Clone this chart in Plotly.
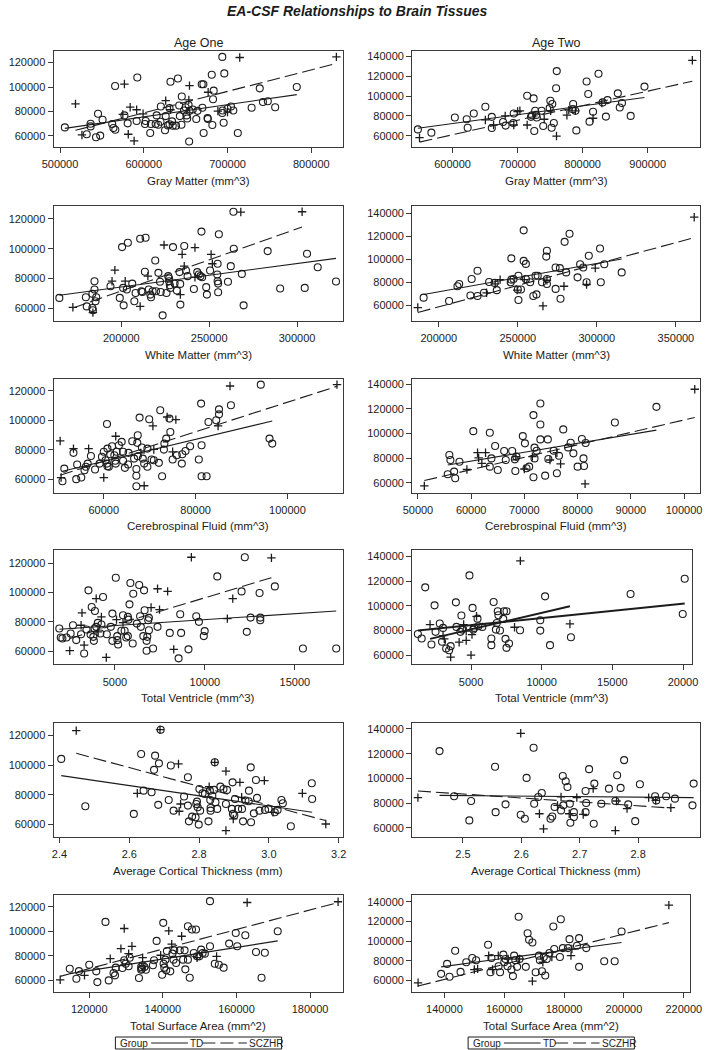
import plotly.graph_objects as go

# ------------------------------------------------------------------
# DATA
# Each point list holds (x, EA-CSF) pairs; fit lists hold the two
# end points of the group regression line as drawn in the reference.
# ------------------------------------------------------------------

# Row 1 - Gray Matter
GM1_TD = [(505800,67000),(531900,61350),(536500,70000),(536500,67800),(543000,58900),(545400,78100),(548000,60300),(550800,73200),(562300,69700),(563800,66500),(566000,65100),(565800,100800),(580800,70300),(576900,76800),(592300,107800),(591500,72200),(601500,69700),(602300,72200),(607700,62400),(608500,69700),(614200,69700),(615400,76800),(620400,84100),(620000,71600),(617300,69200),(625400,64600),(626200,76200),(628800,68600),(630800,82700),(631900,104300),(633800,71900),(630800,69500),(634600,68400),(638500,68400),(640800,107000),(642300,84900),(643100,76200),(645400,92200),(645000,69200),(648100,80800),(650000,83500),(651200,76800),(651900,74300),(653500,85400),(654200,55400),(654600,80500),(658500,81600),(662700,73800),(664200,80500),(669200,102200),(671200,102200),(670000,83000),(671500,62400),(676500,73800),(676200,74600),(681200,110000),(681900,68900),(682700,90000),(683500,97000),(693800,124600),(696200,111100),(695400,70800),(694200,80800),(693800,78700),(700000,82200),(704200,84100),(706900,80800),(712300,62400),(728800,83000),(738500,98900),(742300,87800),(748100,88400),(756900,83500),(782700,100000)]
GM1_HR = [(518500,86200),(526200,60800),(576900,102400),(581500,61400),(583800,83500),(588500,56000),(591500,81400),(599200,78100),(626200,88900),(631900,81400),(654600,101100),(653800,89500),(676900,95700),(700000,79500),(714600,124100),(830000,124600),(575000,77600),(688500,80300)]
GM1_TD_FIT_X, GM1_TD_FIT_Y = [505800, 782700], [66200, 93800]
GM1_HR_FIT_X, GM1_HR_FIT_Y = [518500, 830000], [64600, 119200]

GM2_TD = [(546600,66400),(567400,63100),(603500,78300),(621700,76600),(623200,68100),(632600,82400),(650400,89200),(660300,79000),(660300,67800),(677600,73900),(681600,70200),(694000,82400),(693400,72900),(714700,100300),(724600,97600),(720600,79000),(722100,80700),(727000,85100),(728500,81000),(725600,64700),(729500,78300),(736900,85100),(739400,69800),(749300,87800),(750300,95300),(752300,68100),(753300,91900),(755700,72900),(759200,107800),(760200,125100),(785400,91900),(784900,86800),(788800,85100),(790300,65400),(806100,114600),(808600,102000),(810600,74200),(816000,84100),(824400,122400),(830800,93600),(835800,79300),(838300,95900),(854100,102700),(857100,88500),(860500,92900),(873900,80000),(895100,109500)]
GM2_HR = [(549100,58000),(650400,75900),(663000,70800),(680900,80000),(694100,70800),(700000,84400),(703500,85100),(714700,70800),(740900,76600),(750800,85100),(759800,59700),(775800,80700),(778700,85800),(788800,85100),(816000,77600),(829400,92900),(968700,136000)]
GM2_TD_FIT_X, GM2_TD_FIT_Y = [546600, 895100], [67500, 98600]
GM2_HR_FIT_X, GM2_HR_FIT_Y = [549100, 968700], [53600, 114900]

# Row 2 - White Matter
WM1_TD = [(164700,67000),(179800,67400),(180300,61300),(183500,69700),(184700,78200),(184700,72600),(183500,60200),(183800,58700),(185300,64700),(185700,67400),(193800,74800),(199100,67000),(200400,101100),(201000,73700),(201300,62000),(203700,104000),(203100,72600),(206200,76600),(207400,64700),(208100,70300),(210700,106700),(211400,71500),(212000,71000),(213800,107400),(213400,84500),(215600,72600),(216500,69200),(216900,67400),(217800,71500),(219300,92100),(219700,71500),(221100,83800),(222000,77800),(222400,71000),(223500,55300),(225700,70300),(226700,81600),(227200,80000),(227200,78200),(227600,75500),(227900,73700),(229400,101100),(230300,76600),(231600,71900),(233100,84300),(233500,76400),(233600,62500),(235800,101800),(236800,85400),(237700,81600),(241300,73000),(243200,84300),(244100,82700),(245600,111500),(245000,81600),(246000,80900),(248300,74200),(248700,69200),(250500,85400),(254800,89900),(254600,82700),(254800,78200),(255100,76600),(255100,70800),(255500,109700),(260700,77800),(262300,88300),(264000,100000),(263800,124800),(268600,83100),(269600,62000),(283300,98400),(290400,73300),(304400,73700),(305700,96600),(311800,87600),(322200,78000)]
WM1_HR = [(172400,60700),(183800,57100),(194700,78200),(196300,85600),(202200,78200),(210700,61300),(215100,81600),(224300,102500),(234600,96200),(235800,88300),(233600,69200),(241900,100700),(241900,80900),(251100,96200),(251800,89900),(268000,124600),(302900,124800)]
WM1_TD_FIT_X, WM1_TD_FIT_Y = [164700, 322200], [68800, 93500]
WM1_HR_FIT_X, WM1_HR_FIT_Y = [172400, 302900], [60200, 114600]

WM2_TD = [(190400,66600),(206500,63700),(211800,76500),(212900,78500),(220800,82800),(220000,68500),(224500,89900),(224500,68000),(228600,70800),(231800,80200),(235300,79400),(236700,73100),(245900,100700),(245500,79900),(245900,82200),(247300,82800),(250400,85600),(250000,73700),(252000,73700),(250400,64600),(253700,125000),(253700,98500),(255100,95900),(255100,82800),(257800,79900),(259800,68000),(261200,85600),(261800,69400),(262600,85600),(265300,79900),(268000,102200),(268400,107300),(268400,82800),(268400,78500),(273900,92800),(273900,74200),(276600,92200),(277000,65700),(279600,115000),(280600,88500),(282700,122100),(287800,84200),(289400,95600),(291400,92800),(294900,103000),(293500,79900),(302000,109300),(302500,79900),(304700,95600),(315700,88500)]
WM2_HR = [(186700,58000),(230200,70800),(235700,78500),(238800,82200),(249600,73100),(254100,82200),(265900,59400),(268400,81700),(279200,76500),(293500,78000),(299000,92200),(361600,136400)]
WM2_TD_FIT_X, WM2_TD_FIT_Y = [190400, 315700], [69400, 100200]
WM2_HR_FIT_X, WM2_HR_FIT_Y = [186700, 361600], [53700, 118700]

# Row 3 - Cerebrospinal Fluid
CSF1_TD = [(51000,58600),(51400,67200),(53400,77900),(54200,70000),(54000,60000),(55100,61100),(55800,66100),(56100,68400),(56500,70600),(57200,75800),(58100,66600),(59100,70600),(59600,75200),(60000,78600),(60400,72900),(60700,97500),(60800,80800),(60700,70600),(60800,68800),(61100,68400),(61400,77000),(61800,82400),(62300,76300),(62500,72500),(62800,78600),(63300,83100),(63900,85400),(62600,70600),(64200,72500),(64200,78600),(64600,67700),(65300,70000),(65400,77900),(66200,85800),(66600,74000),(67300,84700),(67400,89900),(67100,66900),(67100,62300),(67100,55200),(67800,101900),(67400,75600),(68300,81500),(68500,74000),(68800,70600),(69500,80800),(69500,68400),(69900,100800),(70400,73400),(70900,72900),(72000,71100),(72300,106900),(72700,62000),(73100,80100),(73200,84200),(73600,87600),(74300,101200),(74500,92100),(75000,73400),(75900,76300),(77000,70600),(77100,77000),(77800,79200),(78800,82400),(80700,73400),(81200,111400),(81300,83100),(81300,62000),(82400,62000),(82800,98900),(84500,100100),(85100,107500),(85100,104100),(87700,110300),(94200,124300),(96100,87600),(96700,84200)]
CSF1_HR = [(50500,86000),(50700,61100),(53400,80800),(56700,80800),(60000,61100),(62600,89200),(68100,77900),(68800,55500),(70700,96200),(73800,102300),(75700,100500),(75000,78600),(70900,80200),(84900,96200),(87500,123400),(110800,124300)]
CSF1_TD_FIT_X, CSF1_TD_FIT_Y = [51000, 96700], [65400, 99600]
CSF1_HR_FIT_X, CSF1_HR_FIT_Y = [50500, 110800], [62700, 123200]

CSF2_TD = [(55600,67000),(55900,82600),(56100,78600),(56800,69200),(57000,63800),(57800,77200),(60400,102000),(63500,100700),(63500,73200),(63800,79900),(64500,89900),(65000,70500),(66200,85900),(66500,78600),(67700,85900),(68200,79100),(68500,81300),(68300,69700),(69700,98000),(70100,92100),(70400,71900),(70900,73200),(71700,115000),(71700,64600),(71900,88600),(71900,79900),(72300,86100),(73000,124400),(73000,107400),(73000,95300),(73900,65900),(74400,95300),(74500,79400),(75500,86100),(76100,67800),(76500,82100),(77300,103400),(78200,88800),(78700,92600),(79200,84000),(80000,73200),(80800,95600),(81100,79900),(81200,73700),(81500,92400),(87000,109000),(94800,121700)]
CSF2_HR = [(51200,57600),(59200,70900),(61200,84500),(61400,80300),(62000,75900),(62700,84500),(68400,81300),(70000,71300),(71500,81300),(74800,78600),(76100,84500),(76800,75400),(81400,59200),(102000,136000)]
CSF2_TD_FIT_X, CSF2_TD_FIT_Y = [55600, 94800], [74500, 102800]
CSF2_HR_FIT_X, CSF2_HR_FIT_Y = [51200, 102000], [61900, 113100]

# Row 4 - Total Ventricle
TV1_TD = [(1910,75600),(1990,69500),(2080,68800),(2310,69500),(2540,72200),(2670,77800),(2850,67700),(3120,71700),(3290,58600),(3420,74900),(3530,101500),(3650,71500),(3710,90200),(3800,69900),(3830,67200),(3870,75600),(3890,87500),(3960,76700),(4050,79400),(4190,72200),(4250,78300),(4340,97000),(4550,71700),(4770,76700),(4860,67200),(4860,85700),(5050,110100),(5130,70400),(5140,67700),(5180,64700),(5360,74000),(5450,84600),(5540,74000),(5630,69500),(5720,83500),(5720,70400),(5810,92000),(5750,81600),(5860,106500),(5990,65400),(6020,99200),(6220,78900),(6350,105100),(6400,83900),(6440,76700),(6580,70400),(6620,101500),(6650,88000),(6760,67200),(6760,60500),(6800,69900),(6850,81200),(6890,74400),(6890,82800),(7120,62000),(7370,76700),(8050,72600),(8630,85300),(8680,72600),(8540,55300),(9090,61400),(9520,83900),(9670,80100),(9940,70400),(9990,73800),(10690,111000),(12040,100800),(12330,73300),(12540,83000),(12220,124000),(13040,99700),(13080,83000),(13080,81200),(13890,104200),(15450,62000),(17300,62000)]
TV1_HR = [(2490,60500),(3170,86200),(3290,64300),(3120,77800),(3960,95900),(4250,83500),(4070,73300),(4520,55900),(5090,81600),(5450,79600),(7010,89800),(7370,102600),(7480,88400),(7930,100800),(8270,61400),(9250,124000),(11250,82300),(11550,95900),(13700,123600)]
TV1_TD_FIT_X, TV1_TD_FIT_Y = [1910, 17300], [75100, 87500]
TV1_HR_FIT_X, TV1_HR_FIT_Y = [2490, 13700], [68800, 110100]

TV2_TD = [(1240,77200),(1510,73500),(1760,115000),(2200,68600),(2420,100400),(2490,78900),(2790,85600),(3020,82100),(2950,70800),(3240,65400),(3450,64000),(3560,67300),(3930,102800),(3970,82900),(4250,78900),(4320,92100),(4380,80700),(4890,124700),(5110,98300),(5160,80700),(5230,82100),(5460,89600),(5520,83400),(5800,82900),(6440,73500),(6440,68100),(6600,103100),(6760,80700),(6820,86100),(6890,95600),(6940,92300),(7050,80000),(7280,89400),(7330,95600),(7510,95600),(7440,73200),(7510,65900),(7690,69400),(8470,80200),(9900,88300),(9900,79900),(10240,107700),(10590,68100),(12070,74500),(16290,109600),(19980,93400),(20120,122000)]
TV2_HR = [(2100,84800),(3020,75900),(3110,73200),(4160,70500),(4660,71900),(3560,58400),(4480,84800),(4660,79400),(5000,60000),(5070,76700),(5390,91500),(8080,82600),(12000,85300),(8490,136500)]
TV2_TD_FIT_X, TV2_TD_FIT_Y = [1240, 20120], [79900, 101800]
TV2_HR_FIT_X, TV2_HR_FIT_Y = [2100, 12000], [73200, 99600]

# Row 5 - Average Cortical Thickness
CT1_TD = [(2.405,104300),(2.474,72400),(2.613,67200),(2.634,107600),(2.641,82900),(2.664,81800),(2.671,96900),(2.674,106500),(2.685,101300),(2.683,73300),(2.690,124000),(2.713,76600),(2.719,99800),(2.727,69400),(2.757,78900),(2.768,91900),(2.768,72800),(2.771,62200),(2.780,65400),(2.790,64900),(2.792,73900),(2.794,75500),(2.796,71700),(2.799,60000),(2.801,84000),(2.803,69400),(2.810,81100),(2.817,80700),(2.827,62200),(2.831,82900),(2.832,76600),(2.833,71200),(2.833,69400),(2.838,79500),(2.843,83400),(2.845,102000),(2.847,75100),(2.852,70600),(2.861,85600),(2.870,84000),(2.880,83400),(2.877,73900),(2.894,70600),(2.896,88500),(2.897,67200),(2.901,66100),(2.903,77300),(2.912,70600),(2.923,70600),(2.926,62200),(2.933,76200),(2.942,75700),(2.943,82900),(2.949,61600),(2.948,98600),(2.957,67600),(2.963,90100),(2.966,78000),(2.973,69400),(2.989,69900),(2.999,70600),(3.017,68300),(3.025,69900),(3.036,76600),(3.040,74400),(3.063,58900),(3.123,87900),(3.124,77300)]
CT1_HR = [(2.448,123400),(2.623,81100),(2.688,124000),(2.741,100900),(2.743,69000),(2.747,73900),(2.845,102000),(2.829,85600),(2.877,96000),(2.877,56000),(2.898,63800),(2.917,88500),(2.922,78400),(2.987,89700),(3.012,68300),(3.096,81100),(3.163,60400)]
CT1_TD_FIT_X, CT1_TD_FIT_Y = [2.405, 3.124], [93000, 68300]
CT1_HR_FIT_X, CT1_HR_FIT_Y = [2.448, 3.163], [108100, 62700]

CT2_TD = [(2.460,122100),(2.485,85500),(2.511,66000),(2.514,81700),(2.555,109400),(2.556,72700),(2.573,79000),(2.599,70600),(2.606,67300),(2.609,100400),(2.622,79500),(2.621,124800),(2.629,85000),(2.635,88200),(2.650,67300),(2.653,69200),(2.657,76800),(2.668,74100),(2.671,102000),(2.672,78200),(2.676,97700),(2.679,93100),(2.683,79500),(2.684,64100),(2.690,72700),(2.690,68700),(2.710,89800),(2.711,80100),(2.710,72700),(2.716,107500),(2.724,63300),(2.725,95800),(2.737,79500),(2.750,91700),(2.761,81700),(2.764,102600),(2.770,92300),(2.776,114800),(2.783,79000),(2.795,65400),(2.803,95300),(2.829,85500),(2.831,82200),(2.848,85500),(2.863,83600),(2.893,78200),(2.895,95800)]
CT2_HR = [(2.423,84400),(2.599,136500),(2.631,71400),(2.638,59200),(2.662,78200),(2.668,85000),(2.682,71400),(2.695,84400),(2.706,70800),(2.723,91700),(2.761,57800),(2.763,81700),(2.781,75500),(2.818,84400),(2.830,82200),(2.856,76300)]
CT2_TD_FIT_X, CT2_TD_FIT_Y = [2.460, 2.895], [86300, 84400]
CT2_HR_FIT_X, CT2_HR_FIT_Y = [2.423, 2.856], [89800, 76000]

# Row 6 - Total Surface Area
SA1_TD = [(114700,69500),(116500,61400),(117200,67600),(120000,72800),(121900,67400),(122200,58600),(124400,107700),(125300,60000),(126600,66000),(127000,64100),(127200,70400),(129000,70100),(129500,76400),(129900,73600),(130700,71500),(131000,78500),(133500,61900),(134100,70900),(134100,68700),(134300,69500),(134500,72300),(135000,70900),(135400,68700),(137300,72300),(137600,76400),(138300,92200),(139800,64600),(140100,106900),(140200,73600),(140400,70400),(140700,76900),(140900,68200),(141100,84000),(142000,67400),(142600,81800),(142900,76900),(143100,84500),(143600,74200),(144600,84500),(145500,76900),(145900,84500),(146100,69000),(146800,104200),(146800,76900),(147300,62200),(147900,101500),(148400,82400),(149000,101500),(149300,79600),(149900,79600),(150400,85100),(150800,82400),(151400,81800),(152800,87800),(152800,124600),(154100,73600),(155200,72800),(156500,70400),(158000,90000),(159800,98700),(160200,87800),(162400,96800),(165300,83200),(166800,62200),(167700,82600),(171200,100100)]
SA1_HR = [(112100,60500),(118700,64100),(125700,77700),(128600,85900),(129500,102300),(130700,81800),(131600,87800),(134500,78500),(139400,80500),(141600,100400),(142400,89500),(145100,96000),(149300,78500),(154600,79600),(162900,123500),(187600,124100)]
SA1_TD_FIT_X, SA1_TD_FIT_Y = [114700, 171200], [65500, 92200]
SA1_HR_FIT_X, SA1_HR_FIT_Y = [112100, 187600], [63300, 123500]

SA2_TD = [(138900,66700),(140900,76800),(141700,63700),(143600,90200),(145400,68700),(147300,78500),(149300,82800),(150600,80500),(154600,96300),(155400,68400),(155700,82800),(158100,74400),(158600,68400),(159700,86200),(160000,78500),(160400,81800),(161100,74400),(162400,71100),(162900,64400),(163300,85200),(163700,80500),(164300,73800),(164800,124800),(165100,81800),(167200,73800),(167800,108000),(168300,101300),(169400,98600),(170500,68400),(171600,85200),(171900,80500),(172600,69400),(173200,83900),(173700,65000),(174200,81800),(175100,87900),(176400,114800),(176700,91900),(178600,83900),(178900,122200),(179600,92900),(181800,102000),(181300,92900),(184300,95300),(185000,73800),(185000,103000),(187400,92900),(193400,79500),(196900,79500),(199200,109700)]
SA2_HR = [(131200,57600),(150000,71100),(151100,71800),(154800,85200),(156100,71100),(158000,85200),(161300,81800),(165100,81800),(169400,59300),(172900,78500),(175900,83900),(182300,85200),(182600,91900),(215000,136600)]
SA2_TD_FIT_X, SA2_TD_FIT_Y = [138900, 199200], [73800, 98600]
SA2_HR_FIT_X, SA2_HR_FIT_Y = [131200, 215000], [54300, 118800]

# Tick values / labels
Y_TICKS_AGE1 = [60000, 80000, 100000, 120000]
Y_TICKS_AGE2 = [60000, 80000, 100000, 120000, 140000]
X_TICKS = {
    "GM1": [500000, 600000, 700000, 800000],
    "GM2": [600000, 700000, 800000, 900000],
    "WM1": [200000, 250000, 300000],
    "WM2": [200000, 250000, 300000, 350000],
    "CSF1": [60000, 80000, 100000],
    "CSF2": [50000, 60000, 70000, 80000, 90000, 100000],
    "TV1": [5000, 10000, 15000],
    "TV2": [5000, 10000, 15000, 20000],
    "CT1": [2.4, 2.6, 2.8, 3.0, 3.2],
    "CT2": [2.5, 2.6, 2.7, 2.8],
    "SA1": [120000, 140000, 160000, 180000],
    "SA2": [140000, 160000, 180000, 200000, 220000],
}
X_TITLES = ["Gray Matter (mm^3)", "White Matter (mm^3)", "Cerebrospinal Fluid (mm^3)",
            "Total Ventricle (mm^3)", "Average Cortical Thickness (mm)", "Total Surface Area (mm^2)"]
COLUMN_TITLES = ["Age One", "Age Two"]
GROUPS = ["TD", "SCZHR"]
TITLE = "EA-CSF Relationships to Brain Tissues"

# ------------------------------------------------------------------
# LAYOUT / STYLE
# ------------------------------------------------------------------
W, H = 714, 1050
FONT = "Liberation Sans, Arial, Helvetica, sans-serif"
INK = "#1c1c1c"
FRAME = "#3a3a3a"
DASH = "13px,5px"

# frame boxes in pixels: rows (top, bottom), columns (left, right)
ROWS_PX = [(50, 146), (205, 320), (378, 492), (550, 664), (723, 837), (895, 992)]
LEFT_X = (43, 342)
RIGHT_X = [(414, 712), (414, 712), (414, 712), (414, 704), (414, 712), (414, 702)]

panels = [
    ("GM1", GM1_TD, GM1_HR, GM1_TD_FIT_X, GM1_TD_FIT_Y, GM1_HR_FIT_X, GM1_HR_FIT_Y, [492300, 837300], [51080, 129460]),
    ("GM2", GM2_TD, GM2_HR, GM2_TD_FIT_X, GM2_TD_FIT_Y, GM2_HR_FIT_X, GM2_HR_FIT_Y, [537700, 980600], [48800, 145400]),
    ("WM1", WM1_TD, WM1_HR, WM1_TD_FIT_X, WM1_TD_FIT_Y, WM1_HR_FIT_X, WM1_HR_FIT_Y, [161400, 325900], [51700, 128800]),
    ("WM2", WM2_TD, WM2_HR, WM2_TD_FIT_X, WM2_TD_FIT_Y, WM2_HR_FIT_X, WM2_HR_FIT_Y, [183100, 365300], [46600, 146300]),
    ("CSF1", CSF1_TD, CSF1_HR, CSF1_TD_FIT_X, CSF1_TD_FIT_Y, CSF1_HR_FIT_X, CSF1_HR_FIT_Y, [49060, 112000], [50900, 128400]),
    ("CSF2", CSF2_TD, CSF2_HR, CSF2_TD_FIT_X, CSF2_TD_FIT_Y, CSF2_HR_FIT_X, CSF2_HR_FIT_Y, [48900, 103000], [52200, 144600]),
    ("TV1", TV1_TD, TV1_HR, TV1_TD_FIT_X, TV1_TD_FIT_Y, TV1_HR_FIT_X, TV1_HR_FIT_Y, [1590, 17650], [51200, 128600]),
    ("TV2", TV2_TD, TV2_HR, TV2_TD_FIT_X, TV2_TD_FIT_Y, TV2_HR_FIT_X, TV2_HR_FIT_Y, [830, 20660], [52500, 144900]),
    ("CT1", CT1_TD, CT1_HR, CT1_TD_FIT_X, CT1_TD_FIT_Y, CT1_HR_FIT_X, CT1_HR_FIT_Y, [2.383, 3.211], [51500, 128300]),
    ("CT2", CT2_TD, CT2_HR, CT2_TD_FIT_X, CT2_TD_FIT_Y, CT2_HR_FIT_X, CT2_HR_FIT_Y, [2.413, 2.906], [52400, 144600]),
    ("SA1", SA1_TD, SA1_HR, SA1_TD_FIT_X, SA1_TD_FIT_Y, SA1_HR_FIT_X, SA1_HR_FIT_Y, [110300, 188800], [50500, 129500]),
    ("SA2", SA2_TD, SA2_HR, SA2_TD_FIT_X, SA2_TD_FIT_Y, SA2_HR_FIT_X, SA2_HR_FIT_Y, [129200, 222200], [48200, 146700]),
]


def fx(p):
    return p / W


def fy(p):
    return 1 - p / H


fig = go.Figure()
layout = {}
annotations = []
shapes = []

for i, (key, td, hr, tfx, tfy, hfx, hfy, xr, yr) in enumerate(panels):
    n = i + 1
    row, col = divmod(i, 2)
    sfx = "" if n == 1 else str(n)
    xref, yref = "x" + sfx, "y" + sfx
    x0, x1 = LEFT_X if col == 0 else RIGHT_X[row]
    top, bot = ROWS_PX[row]
    thick = key == "TV2"  # that panel shows both fits as bold solid lines

    fig.add_trace(go.Scatter(
        x=[p[0] for p in td], y=[p[1] for p in td], mode="markers", name=GROUPS[0],
        xaxis=xref, yaxis=yref, showlegend=False,
        marker=dict(symbol="circle-open", size=7, color=INK, line=dict(width=1.1, color=INK))))
    fig.add_trace(go.Scatter(
        x=[p[0] for p in hr], y=[p[1] for p in hr], mode="markers", name=GROUPS[1],
        xaxis=xref, yaxis=yref, showlegend=False,
        marker=dict(symbol="cross-thin", size=6, color=INK, line=dict(width=1.3, color=INK))))
    fig.add_trace(go.Scatter(
        x=tfx, y=tfy, mode="lines", name=GROUPS[0] + " fit", xaxis=xref, yaxis=yref,
        showlegend=False, line=dict(color=INK, width=2 if thick else 1.1)))
    fig.add_trace(go.Scatter(
        x=hfx, y=hfy, mode="lines", name=GROUPS[1] + " fit", xaxis=xref, yaxis=yref,
        showlegend=False,
        line=dict(color=INK, width=2 if thick else 1.1, dash="solid" if thick else DASH)))

    common = dict(showline=True, mirror=True, linecolor=FRAME, linewidth=1,
                  ticks="outside", ticklen=5, tickwidth=1, tickcolor=FRAME,
                  showgrid=False, zeroline=False,
                  tickfont=dict(family=FONT, size=11, color=INK))
    layout["xaxis" + sfx] = dict(domain=[fx(x0), fx(x1)], anchor=yref, range=xr,
                                 tickvals=X_TICKS[key],
                                 tickformat=".1f" if key.startswith("CT") else "d",
                                 ticklabelstandoff=2, **common)
    layout["yaxis" + sfx] = dict(domain=[fy(bot), fy(top)], anchor=xref, range=yr,
                                 tickvals=Y_TICKS_AGE1 if col == 0 else Y_TICKS_AGE2,
                                 tickformat="d", **common)

    annotations.append(dict(text=X_TITLES[row], x=fx((x0 + x1) / 2), y=fy(bot + 34),
                            xref="paper", yref="paper", xanchor="center", yanchor="middle",
                            showarrow=False, font=dict(family=FONT, size=11.5, color=INK)))

# column titles
for col, (x0, x1) in enumerate([LEFT_X, RIGHT_X[0]]):
    annotations.append(dict(text=COLUMN_TITLES[col], x=fx((x0 + x1) / 2), y=fy(42),
                            xref="paper", yref="paper", xanchor="center", yanchor="middle",
                            showarrow=False, font=dict(family=FONT, size=12.5, color=INK)))

# main title
annotations.append(dict(text="<b><i>" + TITLE + "</i></b>", x=0.5, y=fy(10),
                        xref="paper", yref="paper", xanchor="center", yanchor="middle",
                        showarrow=False, font=dict(family=FONT, size=14, color=INK)))

# group legends (one under each column)
for lx in (107, 472):
    ly = 1043
    shapes.append(dict(type="rect", xref="paper", yref="paper",
                       x0=fx(lx), x1=fx(lx + 172), y0=fy(1049), y1=fy(1037),
                       line=dict(color=INK, width=1), fillcolor="white"))
    annotations.append(dict(text="Group", x=fx(lx + 3), y=fy(ly), xref="paper", yref="paper",
                            xanchor="left", yanchor="middle", showarrow=False,
                            font=dict(family=FONT, size=10, color=INK)))
    shapes.append(dict(type="line", xref="paper", yref="paper", x0=fx(lx + 37), x1=fx(lx + 75),
                       y0=fy(ly), y1=fy(ly), line=dict(color=INK, width=1)))
    annotations.append(dict(text=GROUPS[0], x=fx(lx + 75), y=fy(ly), xref="paper", yref="paper",
                            xanchor="left", yanchor="middle", showarrow=False,
                            font=dict(family=FONT, size=10, color=INK)))
    shapes.append(dict(type="line", xref="paper", yref="paper", x0=fx(lx + 90), x1=fx(lx + 136),
                       y0=fy(ly), y1=fy(ly), line=dict(color=INK, width=1, dash=DASH)))
    annotations.append(dict(text=GROUPS[1], x=fx(lx + 136), y=fy(ly), xref="paper", yref="paper",
                            xanchor="left", yanchor="middle", showarrow=False,
                            font=dict(family=FONT, size=10, color=INK)))

fig.update_layout(
    width=W, height=H,
    margin=dict(l=0, r=0, t=0, b=0),
    paper_bgcolor="white", plot_bgcolor="white",
    font=dict(family=FONT, color=INK),
    showlegend=False,
    annotations=annotations, shapes=shapes,
    **layout,
)

# remove the default page margin so the 714x1050 figure fills the window exactly
fig.write_html("out.html",
               config={"displayModeBar": False},
               post_script="document.body.style.margin='0px';document.body.style.overflow='hidden';")
